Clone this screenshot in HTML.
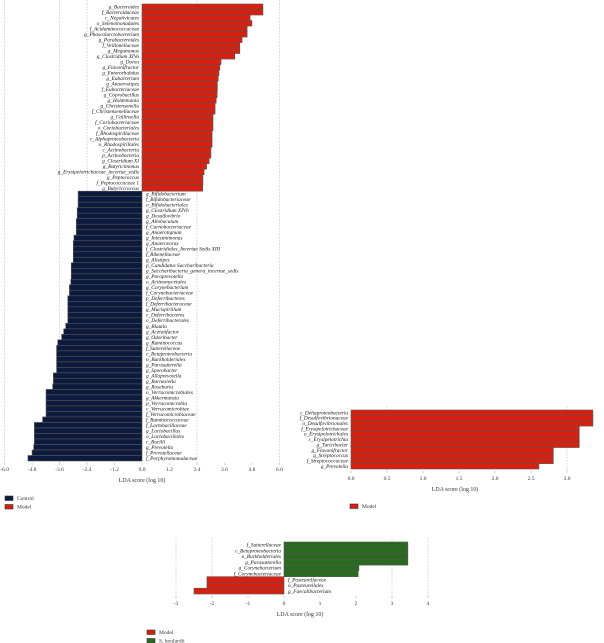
<!DOCTYPE html>
<html><head><meta charset="utf-8"><style>
html,body{margin:0;padding:0;background:#fff;}
svg{display:block;}
text{font-family:"Liberation Serif",serif;}
.lab{font-size:5.3px;font-style:italic;fill:#111;}
.tick{font-size:5.5px;fill:#333;}
.ttl{font-size:6px;fill:#333;}
</style></head><body>
<svg id="chart" width="604" height="643" viewBox="0 0 604 643" xmlns="http://www.w3.org/2000/svg"></svg>
<script>
// ---- Chart 1 data ----
const c1Labels = ["g_Bacteroides","f_Bacteroidaceae","c_Negativicutes","o_Selenomonadales","f_Acidaminococcaceae","g_Phascolarctobacterium","g_Parabacteroides","f_Veillonellaceae","g_Megamonas","g_Clostridium XIVa","g_Dorea","g_Flavonifractor","g_Enterorhabdus","g_Eubacterium","g_Anaerostipes","f_Eubacteriaceae","g_Coprobacillus","g_Holdemania","g_Christensenella","f_Christensenellaceae","g_Collinsella","f_Coriobacteriaceae","o_Coriobacteriales","f_Rhodospirillaceae","c_Alphaproteobacteria","o_Rhodospirillales","c_Actinobacteria","p_Actinobacteria","g_Clostridium XI","g_Butyricimonas","g_Erysipelotrichaceae_incertae_sedis","g_Peptococcus","f_Peptococcaceae 1","g_Butyricicoccus",
"g_Bifidobacterium","f_Bifidobacteriaceae","o_Bifidobacteriales","g_Clostridium XIVb","g_Desulfovibrio","g_Allobaculum","f_Carnobacteriaceae","g_Anaerotignum","g_Intestinimonas","g_Anaerovorax","f_Clostridiales_Incertae Sedis XIII","f_Rikenellaceae","g_Alistipes","p_Candidatus Saccharibacteria","g_Saccharibacteria_genera_incertae_sedis","g_Paraprevotella","o_Actinomycetales","g_Corynebacterium","f_Corynebacteriaceae","p_Deferribacteres","f_Deferribacteraceae","g_Mucispirillum","c_Deferribacteres","o_Deferribacterales","g_Blautia","g_Acetatifactor","g_Odoribacter","g_Ruminococcus","f_Sutterellaceae","c_Betaproteobacteria","o_Burkholderiales","g_Parasutterella","g_Sporobacter","g_Alloprevotella","g_Barnesiella","g_Roseburia","o_Verrucomicrobiales","g_Akkermansia","p_Verrucomicrobia","c_Verrucomicrobiae","f_Verrucomicrobiaceae","f_Ruminococcaceae","f_Lactobacillaceae","g_Lactobacillus","o_Lactobacillales","c_Bacilli","g_Prevotella","f_Prevotellaceae","f_Porphyromonadaceae"];
const c1Values = [5.28,5.28,4.72,4.8,4.59,4.59,4.37,4.27,4.27,4.05,3.45,3.4,3.36,3.33,3.29,3.29,3.28,3.24,3.19,3.19,3.1,3.1,3.1,3.06,3.06,3.06,3.01,3.01,2.93,2.82,2.71,2.66,2.66,2.65,
-2.79,-2.79,-2.79,-2.83,-2.83,-2.87,-2.87,-2.87,-2.97,-3.0,-3.0,-3.0,-3.0,-3.09,-3.09,-3.09,-3.11,-3.17,-3.17,-3.24,-3.24,-3.24,-3.24,-3.24,-3.33,-3.42,-3.51,-3.68,-3.73,-3.73,-3.73,-3.73,-3.73,-3.87,-3.87,-3.9,-4.19,-4.19,-4.19,-4.19,-4.19,-4.34,-4.7,-4.7,-4.7,-4.7,-4.73,-4.8,-4.98];
const c1Ticks = ["-6.0","-4.8","-3.6","-2.4","-1.2","0.0","1.2","2.4","3.6","4.8","6.0"];
const c1TickVals = [-6,-4.8,-3.6,-2.4,-1.2,0,1.2,2.4,3.6,4.8,6];
// ---- Chart 2 data ----
const c2Labels = ["c_Deltaproteobacteria","f_Desulfovibrionaceae","o_Desulfovibrionales","f_Erysipelotrichaceae","o_Erysipelotrichales","c_Erysipelotrichia","g_Turicibacter","g_Flavonifractor","g_Streptococcus","f_Streptococcaceae","g_Prevotella"];
const c2Values = [3.36,3.36,3.36,3.17,3.17,3.17,3.17,2.81,2.81,2.81,2.61];
const c2Ticks = ["0.0","0.5","1.0","1.5","2.0","2.5","3.0"];
const c2TickVals = [0,0.5,1,1.5,2,2.5,3];
// ---- Chart 3 data ----
const c3Labels = ["f_Sutterellaceae","c_Betaproteobacteria","o_Burkholderiales","g_Parasutterella","g_Corynebacterium","f_Corynebacteriaceae","f_Pasteurellaceae","o_Pasteurellales","g_Faecalibacterium"];
const c3Values = [3.44,3.44,3.44,3.44,2.08,2.06,-2.14,-2.14,-2.5];
const c3Ticks = ["-3","-2","-1","0","1","2","3","4"];
const c3TickVals = [-3,-2,-1,0,1,2,3,4];

const NS="http://www.w3.org/2000/svg";
const svg=document.getElementById('chart');
function mk(tag,attrs,parent){const e=document.createElementNS(NS,tag);for(const k in attrs)e.setAttribute(k,attrs[k]);(parent||svg).appendChild(e);return e;}

function drawChart(o){
  const g=mk('g',{});
  
  
  const x=v=>o.x0+v*o.scale;
  const rowH=(o.yBot-o.yTop)/o.labels.length;
  o.grid.forEach(v=>{
    const l=mk('line',{x1:x(v),x2:x(v),y1:o.yTop-4,y2:o.yBot+2,stroke:'#aaa','stroke-width':0.5,'stroke-dasharray':'1.5,1.5'},g);
    
    
  });
  o.labels.forEach((lab,i)=>{
    const v=o.values[i];
    const y=o.yTop+i*rowH;
    const col=v>=0?o.posColor:o.negColor;
    const r=mk('rect',{x:Math.min(x(0),x(v)),y:y,width:Math.abs(x(v)-x(0)),height:rowH,fill:col,stroke:'#555','stroke-width':0.6},g);
    
    
    const t=mk('text',{class:'lab',x:v>=0?x(0)-3:x(0)+4,y:y+rowH*0.8,'text-anchor':v>=0?'end':'start'},g);
    t.textContent=lab;
    
    
  });
  o.ticks.forEach((tl,i)=>{
    const t=mk('text',{class:'tick',x:x(o.tickVals[i]),y:o.tickY,'text-anchor':'middle'},g);
    t.textContent=tl;
    
    
    const m=mk('line',{x1:x(o.tickVals[i]),x2:x(o.tickVals[i]),y1:o.yBot+2,y2:o.yBot+4,stroke:'#999','stroke-width':0.5},g);
    
    
  });
  const at=mk('text',{class:'ttl',x:o.titleX,y:o.tickY+11,'text-anchor':'middle'},g);
  at.textContent='LDA score (log 10)';
  
  
  o.legend.forEach((lg,i)=>{
    const ly=o.legY+i*8.5;
    const s=mk('rect',{x:o.legX,y:ly-4,width:8,height:4.5,fill:lg[1],stroke:'#333','stroke-width':0.6},g);
    
    
    const t=mk('text',{class:'tick',x:o.legX+12,y:ly},g);
    t.textContent=lg[0];
    
    
  });
}
const RED='#d7200f',NAVY='#0c1a3e',GREEN='#2a6a20';
drawChart({name:'chart-control-vs-model',labels:c1Labels,values:c1Values,ticks:c1Ticks,tickVals:c1TickVals,
  x0:142,scale:22.9,yTop:4,yBot:461,grid:[-6,-3.6,-2.4,2.4,6],tickY:471,titleX:142,
  posColor:RED,negColor:NAVY,legX:5,legY:500,legend:[['Control',NAVY],['Model',RED]]});
drawChart({name:'chart-model-only',labels:c2Labels,values:c2Values,ticks:c2Ticks,tickVals:c2TickVals,
  x0:351,scale:72,yTop:410,yBot:469,grid:[0.5,3],tickY:480,titleX:455,
  posColor:RED,negColor:RED,legX:350,legY:508,legend:[['Model',RED]]});
drawChart({name:'chart-model-vs-s-boulardii',labels:c3Labels,values:c3Values,ticks:c3Ticks,tickVals:c3TickVals,
  x0:284,scale:36,yTop:542,yBot:594,grid:[-3,-2,3,4],tickY:605,titleX:300,
  posColor:GREEN,negColor:RED,legX:147,legY:634,legend:[['Model',RED],['S. boulardii',GREEN]]});
</script>
</body></html>
